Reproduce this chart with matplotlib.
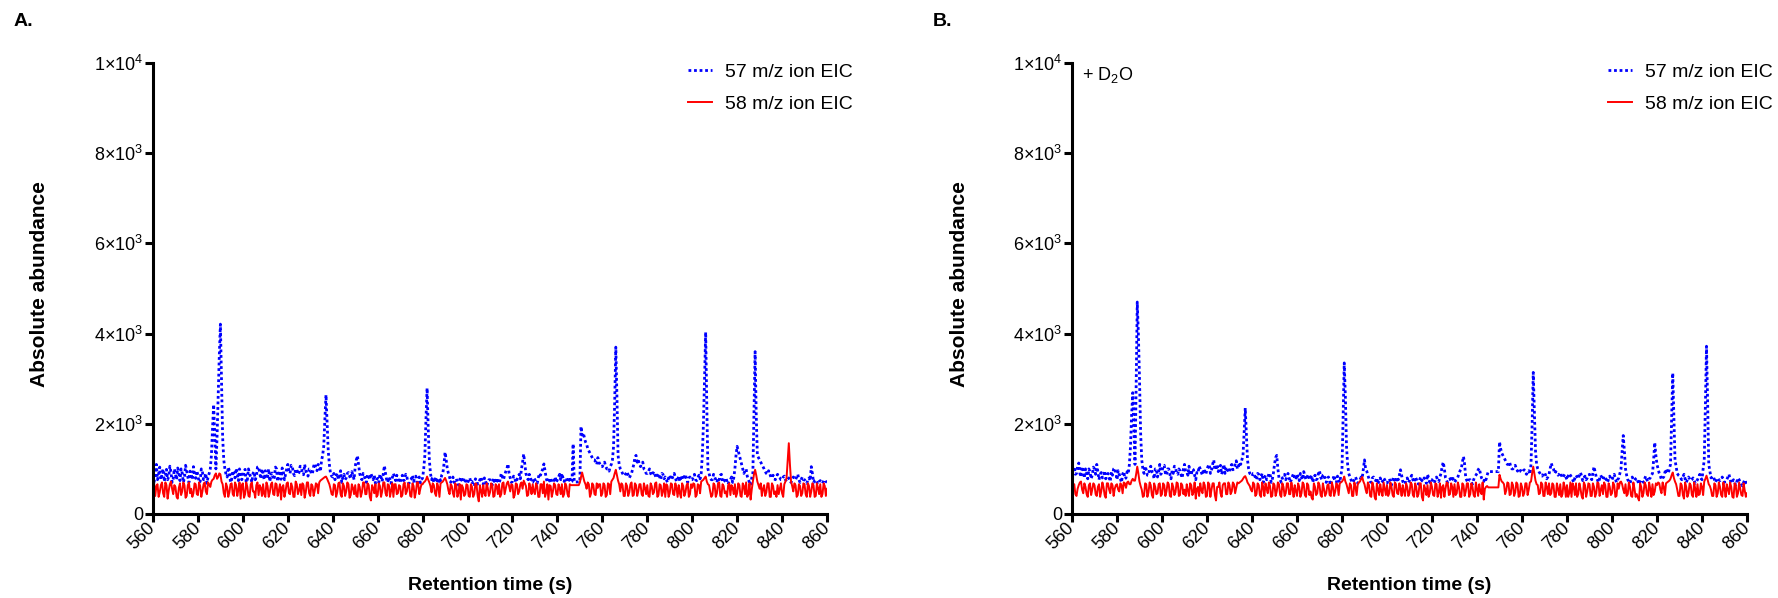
import numpy as np
import matplotlib
matplotlib.use("Agg")
import matplotlib.pyplot as plt
from matplotlib.ticker import FixedLocator, FixedFormatter

plt.rcParams['font.family'] = ['Liberation Sans', 'DejaVu Sans']
plt.rcParams['mathtext.fontset'] = 'custom'
plt.rcParams['mathtext.rm'] = 'Liberation Sans'
plt.rcParams['mathtext.it'] = 'Liberation Sans:italic'
plt.rcParams['mathtext.bf'] = 'Liberation Sans:bold'

# ---------------- data ----------------
# retention time grid: whole seconds and half seconds
t_whole = np.arange(560, 861, 1)
t_half = np.arange(560.5, 860, 1)

# Panel A, 57 m/z, at whole seconds
a_57 = [820, 950, 760, 1040, 880, 720, 990, 830, 930, 780,
        880, 1020, 740, 910, 800, 960, 700, 880, 1050, 790,
        860, 720, 930, 810, 680, 900, 1300, 2430, 1000, 2600,
        4210, 1700, 1000, 820, 950, 760, 880, 1010, 740, 900,
        820, 990, 760, 880, 700, 940, 830, 1050, 780, 900,
        960, 840, 720, 910, 800, 1000, 860, 770, 950, 880,
        1100, 900, 1060, 850, 980, 920, 1040, 870, 960, 840,
        1000, 900, 1120, 960, 1060, 1180, 1500, 2640, 1400, 900,
        820, 760, 900, 840, 700, 880, 800, 920, 780, 860,
        1050, 1290, 900, 760, 850, 700, 820, 900, 760, 680,
        790, 880, 720, 1070, 760, 820, 680, 900, 740, 800,
        700, 860, 760, 820, 680, 780, 720, 840, 760, 690,
        800, 1300, 2790, 1200, 760, 700, 820, 680, 740, 900,
        1370, 1000, 820, 760, 700, 780, 640, 820, 700, 760,
        680, 800, 720, 620, 760, 700, 820, 660, 740, 690,
        760, 640, 720, 800, 680, 900, 760, 940, 1110, 800,
        720, 800, 760, 880, 1000, 1330, 900, 760, 820, 700,
        760, 680, 900, 940, 1110, 800, 720, 780, 700, 820,
        760, 880, 900, 720, 800, 740, 700, 1555, 710, 710,
        720, 1750, 1700, 1550, 1400, 1300, 1200, 1150, 1250, 1100,
        1050, 1150, 1000, 950, 1100, 1500, 3700, 1300, 1000, 900,
        850, 940, 800, 900, 1100, 1300, 1200, 1050, 1150, 980,
        900, 1000, 850, 940, 800, 900, 760, 880, 820, 700,
        860, 780, 900, 720, 840, 800, 760, 880, 700, 820,
        760, 880, 740, 860, 900, 2000, 4030, 1000, 800, 760,
        820, 700, 760, 880, 720, 800, 660, 760, 700, 1000,
        1500, 1300, 1100, 900, 1000, 760, 640, 900, 3600, 1300,
        1200, 1100, 1000, 900, 960, 820, 860, 760, 880, 800,
        760, 840, 720, 800, 700, 820, 760, 880, 700, 820,
        760, 680, 800, 1050, 700, 760, 660, 740, 680, 760,
        700]
# Panel A, 57 m/z, at half seconds
a_57_half = [700, 1100, 880, 760, 1000, 840, 760, 1060, 700, 1000,
             760, 900, 1000, 700, 1080, 820, 950, 760, 860, 960,
             700, 1000, 760, 900, 820, 1000, 1900, 1700, 1700, 3500,
             3000, 1200, 880, 1040, 700, 960, 800, 900, 1000, 760,
             960, 700, 1000, 820, 900, 760, 1040, 900, 1000, 760,
             780, 1000, 880, 760, 1040, 720, 960, 1020, 760, 1000,
             960, 1080, 900, 1000, 880, 1060, 900, 1100, 900, 1000,
             880, 1060, 1000, 1100, 940, 1300, 2100, 2000, 1100, 840,
             900, 840, 760, 960, 820, 760, 900, 840, 940, 760,
             1200, 1100, 800, 900, 760, 880, 760, 820, 860, 760,
             700, 820, 900, 900, 700, 760, 800, 820, 860, 700,
             800, 740, 880, 700, 760, 860, 800, 700, 820, 760,
             1000, 2100, 1900, 900, 820, 760, 720, 800, 860, 1100,
             1200, 900, 700, 820, 760, 700, 760, 740, 800, 680,
             760, 700, 640, 780, 660, 760, 700, 800, 620, 760,
             700, 800, 680, 720, 760, 820, 860, 1000, 900, 700,
             840, 700, 820, 780, 1150, 1100, 800, 880, 700, 800,
             700, 800, 860, 1000, 950, 700, 800, 700, 760, 700,
             820, 760, 800, 780, 700, 820, 720, 710, 710, 715,
             1940, 1800, 1600, 1450, 1350, 1250, 1200, 1100, 1150, 1050,
             1100, 1050, 1000, 1050, 1200, 2500, 2600, 1100, 950, 860,
             900, 860, 850, 1000, 1250, 1150, 1100, 1100, 1000, 900,
             940, 900, 900, 860, 850, 820, 900, 780, 760, 800,
             760, 840, 800, 760, 720, 860, 820, 760, 800, 760,
             820, 760, 800, 780, 1300, 3000, 2400, 900, 760, 880,
             760, 800, 860, 700, 760, 720, 740, 820, 800, 1300,
             1400, 1200, 1000, 960, 840, 700, 800, 2300, 2200, 1250,
             1150, 1050, 940, 880, 900, 800, 780, 840, 820, 760,
             820, 760, 760, 740, 760, 800, 820, 760, 760, 760,
             720, 760, 740, 900, 740, 700, 720, 700, 740, 720]

# Panel A, 58 m/z
a_58 = [560, 400, 660, 480, 700, 380, 640, 520, 720, 440,
        600, 340, 680, 500, 640, 400, 700, 560, 460, 660,
        420, 620, 500, 700, 440, 660, 720, 780, 900, 820,
        880, 660, 380, 600, 480, 680, 400, 640, 540, 340,
        680, 440, 600, 380, 700, 500, 640, 420, 580, 660,
        380, 620, 480, 700, 420, 660, 520, 320, 640, 500,
        700, 440, 600, 380, 660, 520, 420, 640, 480, 700,
        400, 620, 520, 660, 700, 760, 800, 830, 720, 560,
        420, 640, 480, 700, 380, 620, 500, 660, 420, 580,
        640, 380, 600, 480, 700, 440, 640, 300, 580, 660,
        420, 620, 500, 700, 400, 640, 520, 380, 660, 460,
        620, 420, 700, 500, 640, 380, 620, 480, 700, 560,
        660, 720, 830, 700, 480, 640, 400, 600, 680, 720,
        800, 660, 440, 620, 380, 640, 480, 320, 580, 440,
        640, 380, 600, 440, 660, 280, 520, 640, 400, 580,
        480, 640, 400, 620, 660, 440, 700, 560, 720, 500,
        640, 420, 660, 500, 700, 740, 620, 420, 580, 660,
        440, 620, 380, 660, 720, 480, 320, 620, 500, 640,
        420, 580, 660, 440, 620, 380, 640, 640, 640, 640,
        700, 920, 720, 560, 660, 460, 640, 420, 580, 660,
        460, 640, 420, 660, 720, 800, 980, 740, 500, 640,
        400, 620, 480, 700, 420, 640, 500, 660, 400, 580,
        640, 380, 620, 480, 700, 420, 640, 500, 380, 620,
        460, 660, 420, 580, 640, 360, 620, 480, 680, 440,
        580, 660, 420, 640, 720, 760, 830, 660, 500, 420,
        640, 460, 700, 380, 620, 500, 640, 420, 580, 660,
        460, 640, 380, 620, 700, 440, 320, 720, 980, 720,
        560, 400, 640, 480, 680, 380, 620, 500, 640, 560,
        460, 660, 800, 1570, 720, 500, 640, 420, 620, 460,
        660, 380, 620, 500, 640, 400, 580, 660, 440, 620,
        560]
a_58_half = [680, 620, 380, 640, 460, 700, 340, 660, 560, 640,
             380, 580, 420, 700, 360, 640, 460, 380, 680, 440,
             700, 380, 660, 500, 700, 600, 760, 860, 780, 900,
             720, 460, 680, 380, 660, 440, 700, 400, 700, 640,
             360, 700, 400, 660, 500, 360, 700, 640, 400, 440,
             700, 380, 660, 440, 680, 400, 660, 600, 380, 680,
             460, 680, 380, 720, 440, 660, 680, 360, 700, 460,
             660, 400, 680, 460, 740, 780, 820, 780, 660, 440,
             660, 380, 680, 440, 680, 400, 700, 360, 660, 440,
             400, 660, 380, 700, 440, 680, 380, 640, 460, 380,
             680, 380, 700, 460, 660, 380, 680, 660, 440, 640,
             380, 660, 440, 680, 400, 680, 360, 700, 440, 660,
             700, 760, 760, 620, 680, 460, 680, 380, 700, 760,
             740, 520, 660, 460, 680, 380, 660, 640, 400, 660,
             400, 660, 380, 680, 400, 640, 380, 460, 680, 400,
             680, 380, 660, 440, 380, 680, 440, 680, 620, 660,
             360, 680, 440, 660, 560, 680, 400, 680, 440, 500,
             680, 380, 660, 460, 380, 660, 640, 380, 680, 440,
             660, 440, 380, 680, 440, 660, 640, 640, 640, 640,
             820, 820, 660, 700, 380, 680, 440, 680, 660, 400,
             680, 380, 680, 440, 760, 900, 860, 660, 680, 400,
             680, 400, 660, 400, 680, 400, 660, 440, 680, 440,
             400, 680, 440, 680, 380, 660, 400, 680, 660, 380,
             680, 440, 680, 380, 460, 680, 400, 640, 380, 660,
             680, 380, 660, 460, 740, 800, 720, 640, 380, 680,
             380, 680, 400, 660, 460, 380, 680, 640, 440, 380,
             680, 400, 680, 440, 380, 680, 540, 880, 860, 640,
             680, 560, 400, 680, 380, 680, 440, 380, 440, 680,
             380, 720, 1200, 1100, 620, 680, 380, 660, 400, 680,
             440, 680, 380, 680, 380, 680, 440, 380, 680, 400]

# Panel B (+ D2O), 57 m/z
b_57 = [850, 1050, 900, 1130, 820, 960, 1000, 780, 940, 860,
        1000, 1100, 760, 920, 840, 780, 900, 720, 860, 1020,
        760, 880, 700, 940, 800, 900, 1500, 2690, 1100, 4700,
        3000, 1200, 900, 980, 860, 1060, 900, 1000, 820, 1100,
        940, 1080, 860, 1000, 780, 900, 1040, 880, 960, 800,
        1100, 940, 1060, 860, 980, 760, 900, 1000, 860, 940,
        1000, 1100, 960, 1200, 1000, 940, 1080, 980, 900, 1000,
        920, 1100, 1000, 1180, 1050, 1100, 1300, 2350, 1200, 900,
        840, 900, 760, 880, 820, 700, 860, 780, 900, 760,
        1100, 1300, 800, 700, 820, 760, 900, 700, 840, 800,
        880, 740, 820, 940, 760, 880, 800, 700, 860, 780,
        960, 760, 880, 700, 820, 640, 780, 720, 840, 700,
        1000, 3350, 1500, 900, 760, 700, 820, 680, 760, 800,
        1200, 950, 780, 700, 820, 740, 660, 800, 720, 760,
        680, 780, 640, 820, 700, 760, 980, 720, 660, 800,
        740, 860, 700, 780, 660, 820, 720, 760, 880, 700,
        760, 680, 820, 720, 900, 1150, 800, 700, 780, 840,
        700, 760, 900, 1000, 1275, 800, 700, 760, 660, 820,
        900, 1015, 800, 720, 760, 940, 940, 940, 940, 940,
        1600, 1350, 1250, 1150, 1100, 1050, 1000, 1080, 950, 1000,
        920, 980, 880, 960, 1100, 3140, 1400, 1000, 900, 840,
        920, 780, 880, 1125, 1000, 940, 860, 920, 800, 880,
        760, 900, 820, 700, 860, 780, 920, 740, 840, 800,
        880, 760, 1050, 820, 700, 860, 760, 800, 700, 840,
        760, 880, 700, 800, 1000, 1740, 1000, 760, 680, 820,
        740, 800, 660, 760, 700, 840, 720, 800, 900, 1585,
        1100, 900, 760, 820, 1000, 900, 1100, 3125, 1200, 900,
        840, 760, 880, 700, 820, 740, 800, 680, 760, 880,
        760, 1200, 3720, 1100, 800, 840, 700, 800, 740, 820,
        700, 760, 880, 680, 760, 640, 800, 700, 620, 760,
        660]
b_57_half = [1000, 880, 1060, 900, 1050, 800, 900, 1000, 780, 1040,
             880, 940, 880, 800, 960, 860, 800, 940, 1000, 900,
             960, 780, 880, 780, 940, 1100, 2200, 1900, 2800, 4000,
             1800, 1000, 1060, 860, 1000, 940, 780, 1000, 940, 880,
             1060, 900, 1000, 880, 960, 1060, 900, 1000, 860, 1000,
             940, 860, 900, 1000, 860, 920, 1060, 920, 1000, 880,
             1060, 900, 1100, 980, 1100, 1000, 880, 1100, 1040, 940,
             1060, 980, 1100, 1000, 1150, 1200, 1800, 1800, 1000, 880,
             900, 800, 900, 760, 900, 800, 760, 900, 700, 900,
             1250, 1000, 760, 800, 880, 820, 800, 760, 900, 760,
             800, 900, 760, 840, 820, 760, 860, 800, 760, 900,
             820, 860, 760, 800, 720, 760, 860, 700, 760, 860,
             2200, 2600, 1100, 820, 700, 780, 760, 740, 820, 1000,
             1000, 860, 720, 800, 760, 800, 760, 700, 800, 700,
             740, 720, 760, 740, 820, 860, 860, 680, 760, 700,
             800, 760, 820, 700, 760, 740, 800, 680, 800, 760,
             720, 760, 760, 820, 1050, 1000, 740, 760, 720, 760,
             740, 820, 960, 1150, 1100, 740, 760, 700, 760, 860,
             980, 900, 760, 800, 860, 940, 940, 940, 940, 940,
             1450, 1300, 1200, 1100, 1150, 1000, 1050, 1000, 1000, 940,
             960, 920, 940, 880, 2000, 2300, 1100, 940, 860, 900,
             860, 820, 1000, 1050, 900, 900, 880, 860, 840, 820,
             840, 860, 760, 800, 820, 860, 840, 800, 760, 860,
             800, 900, 940, 760, 780, 800, 840, 760, 780, 760,
             820, 780, 760, 900, 1400, 1400, 860, 720, 760, 760,
             780, 720, 720, 740, 780, 760, 780, 860, 1200, 1300,
             1000, 840, 800, 920, 940, 1000, 2100, 2200, 1050, 860,
             800, 820, 780, 760, 780, 760, 740, 720, 820, 800,
             1000, 2400, 2500, 950, 820, 760, 760, 760, 780, 760,
             740, 820, 760, 720, 700, 720, 760, 660, 700, 700]

# Panel B (+ D2O), 58 m/z
b_58 = [520, 660, 400, 640, 720, 460, 600, 380, 680, 540,
        640, 400, 660, 500, 600, 360, 680, 460, 640, 560,
        660, 500, 640, 700, 580, 720, 660, 780, 740, 1050,
        720, 540, 400, 660, 480, 640, 360, 600, 460, 680,
        440, 640, 500, 660, 380, 600, 480, 680, 420, 640,
        540, 660, 400, 640, 480, 340, 600, 680, 460, 640,
        400, 660, 540, 680, 300, 600, 460, 640, 680, 440,
        640, 500, 660, 580, 680, 720, 780, 840, 700, 620,
        500, 660, 440, 640, 380, 600, 680, 460, 620, 400,
        640, 500, 660, 380, 600, 460, 680, 440, 560, 640,
        400, 600, 460, 660, 380, 640, 500, 320, 600, 460,
        640, 380, 560, 460, 660, 400, 600, 500, 640, 680,
        720, 830, 660, 460, 640, 400, 600, 660, 720, 820,
        660, 460, 640, 380, 600, 320, 560, 660, 400, 560,
        640, 460, 600, 380, 660, 440, 560, 640, 400, 600,
        460, 660, 380, 600, 440, 680, 300, 560, 640, 460,
        600, 400, 660, 480, 360, 640, 560, 680, 440, 600,
        660, 460, 600, 380, 640, 500, 680, 440, 600, 380,
        560, 660, 440, 320, 600, 590, 590, 590, 590, 590,
        870, 720, 660, 520, 680, 440, 640, 480, 660, 400,
        600, 460, 680, 540, 720, 1050, 740, 640, 460, 660,
        400, 600, 680, 460, 640, 380, 560, 660, 440, 600,
        640, 460, 380, 600, 680, 440, 560, 340, 640, 500,
        660, 400, 600, 460, 680, 540, 440, 640, 380, 600,
        460, 640, 400, 560, 720, 540, 660, 440, 600, 380,
        560, 440, 300, 600, 460, 640, 400, 560, 660, 500,
        640, 680, 460, 600, 680, 720, 780, 920, 720, 540,
        400, 640, 340, 600, 460, 640, 380, 560, 660, 440,
        600, 720, 850, 660, 540, 400, 640, 460, 600, 380,
        560, 660, 440, 600, 360, 640, 460, 560, 400, 520,
        460]
b_58_half = [660, 440, 560, 700, 540, 680, 440, 640, 420, 680,
             440, 600, 380, 700, 420, 680, 540, 680, 400, 640,
             540, 680, 460, 680, 700, 660, 740, 740, 880, 900,
             620, 380, 680, 380, 700, 420, 680, 440, 660, 400,
             680, 400, 700, 400, 680, 420, 700, 400, 680, 440,
             400, 520, 680, 420, 700, 560, 400, 520, 700, 380,
             700, 380, 680, 420, 600, 700, 380, 680, 440, 700,
             440, 700, 460, 700, 700, 740, 820, 780, 660, 540,
             700, 400, 680, 420, 700, 400, 560, 700, 380, 680,
             400, 700, 420, 680, 400, 680, 440, 700, 380, 500,
             680, 380, 700, 420, 680, 420, 360, 680, 420, 700,
             420, 680, 400, 640, 420, 700, 400, 680, 420, 700,
             760, 720, 560, 680, 400, 700, 420, 700, 780, 720,
             540, 700, 400, 700, 380, 680, 420, 500, 700, 420,
             400, 700, 420, 700, 460, 680, 400, 500, 680, 400,
             700, 420, 680, 380, 680, 380, 640, 420, 380, 700,
             420, 680, 380, 680, 600, 380, 700, 420, 680, 380,
             420, 700, 380, 680, 400, 680, 380, 680, 420, 700,
             400, 500, 700, 560, 620, 590, 590, 590, 590, 590,
             780, 700, 440, 700, 420, 700, 400, 700, 380, 680,
             400, 680, 420, 700, 900, 900, 660, 440, 700, 400,
             700, 440, 420, 680, 380, 680, 420, 380, 700, 380,
             380, 700, 680, 420, 380, 680, 400, 700, 380, 680,
             400, 680, 380, 700, 400, 640, 700, 380, 680, 420,
             700, 380, 680, 700, 660, 460, 400, 700, 400, 700,
             380, 360, 680, 380, 700, 440, 700, 380, 420, 680,
             700, 540, 700, 420, 700, 740, 860, 800, 660, 400,
             680, 420, 700, 380, 680, 420, 700, 380, 420, 680,
             420, 780, 760, 620, 400, 680, 380, 700, 420, 700,
             380, 540, 700, 380, 680, 380, 700, 420, 680, 380]

series_labels = ['57 m/z ion EIC', '58 m/z ion EIC']
x_ticks = list(range(560, 861, 20))
y_ticks = [0, 2000, 4000, 6000, 8000, 10000]
y_tick_labels = ['0', '2×10$^3$', '4×10$^3$', '6×10$^3$', '8×10$^3$', '1×10$^4$']
panel_labels = ['A.', 'B.']
x_label = 'Retention time (s)'
y_label = 'Absolute abundance'
annotation_b = '+ D$_2$O'


def merge(whole, half):
    """Interleave whole-second and half-second readings into one time series."""
    t = np.concatenate([t_whole, t_half])
    y = np.concatenate([np.asarray(whole, float), np.asarray(half, float)])
    order = np.argsort(t)
    return t[order], y[order]


# ---------------- figure ----------------
W, H = 1778, 598
fig = plt.figure(figsize=(W / 100, H / 100), dpi=100)


def px_axes(left, top, right, bottom):
    return fig.add_axes([left / W, 1 - bottom / H, (right - left) / W, (bottom - top) / H])


axA = px_axes(153, 63, 827, 514)
axB = px_axes(1072, 63, 1747, 514)

BLUE = '#0000FF'
RED = '#FF0000'


def style(ax, y57, y57h, y58, y58h):
    t1, v1 = merge(y57, y57h)
    t2, v2 = merge(y58, y58h)
    ax.plot(t1, v1, color=BLUE, lw=2.0, linestyle=(0, (1, 1)), label=series_labels[0])
    ax.plot(t2, v2, color=RED, lw=1.4, label=series_labels[1])
    ax.set_xlim(560, 860)
    ax.set_ylim(0, 10000)
    for s in ['top', 'right']:
        ax.spines[s].set_visible(False)
    for s in ['left', 'bottom']:
        ax.spines[s].set_linewidth(2.2)
    ax.xaxis.set_major_locator(FixedLocator(x_ticks))
    ax.yaxis.set_major_locator(FixedLocator(y_ticks))
    ax.yaxis.set_major_formatter(FixedFormatter(y_tick_labels))
    ax.tick_params(axis='both', direction='out', length=5.5, width=2.2, labelsize=13, pad=1.5)
    ax.tick_params(axis='x', pad=3)
    for lab in ax.get_xticklabels():
        lab.set_rotation(45)
        lab.set_ha('right')
        lab.set_va('center')
        lab.set_rotation_mode('anchor')
    ax.legend(loc='upper left', bbox_to_anchor=(0.794, 1.0), frameon=False, fontsize=14,
              handlelength=1.25, handletextpad=0.65, labelspacing=0.75, borderpad=0,
              borderaxespad=0)


style(axA, a_57, a_57_half, a_58, a_58_half)
style(axB, b_57, b_57_half, b_58, b_58_half)

# axis labels
for axis_px, ylab_px in [((153, 827), 40), ((1072, 1747), 959)]:
    cx = (axis_px[0] + axis_px[1]) / 2
    fig.text(cx / W, 1 - 586 / H, x_label, ha='center', va='center', fontsize=14, fontweight='bold')
    fig.text(ylab_px / W, 1 - 284 / H, y_label, ha='center', va='center', rotation=90,
             fontsize=15, fontweight='bold')

fig.text(14 / W, 1 - 22 / H, panel_labels[0], ha='left', va='center', fontsize=14, fontweight='bold')
fig.text(933 / W, 1 - 22 / H, panel_labels[1], ha='left', va='center', fontsize=14, fontweight='bold')

fig.text(1082 / W, 1 - 75 / H, annotation_b, ha='left', va='center', fontsize=13)

fig.savefig('out.png', dpi=100)
